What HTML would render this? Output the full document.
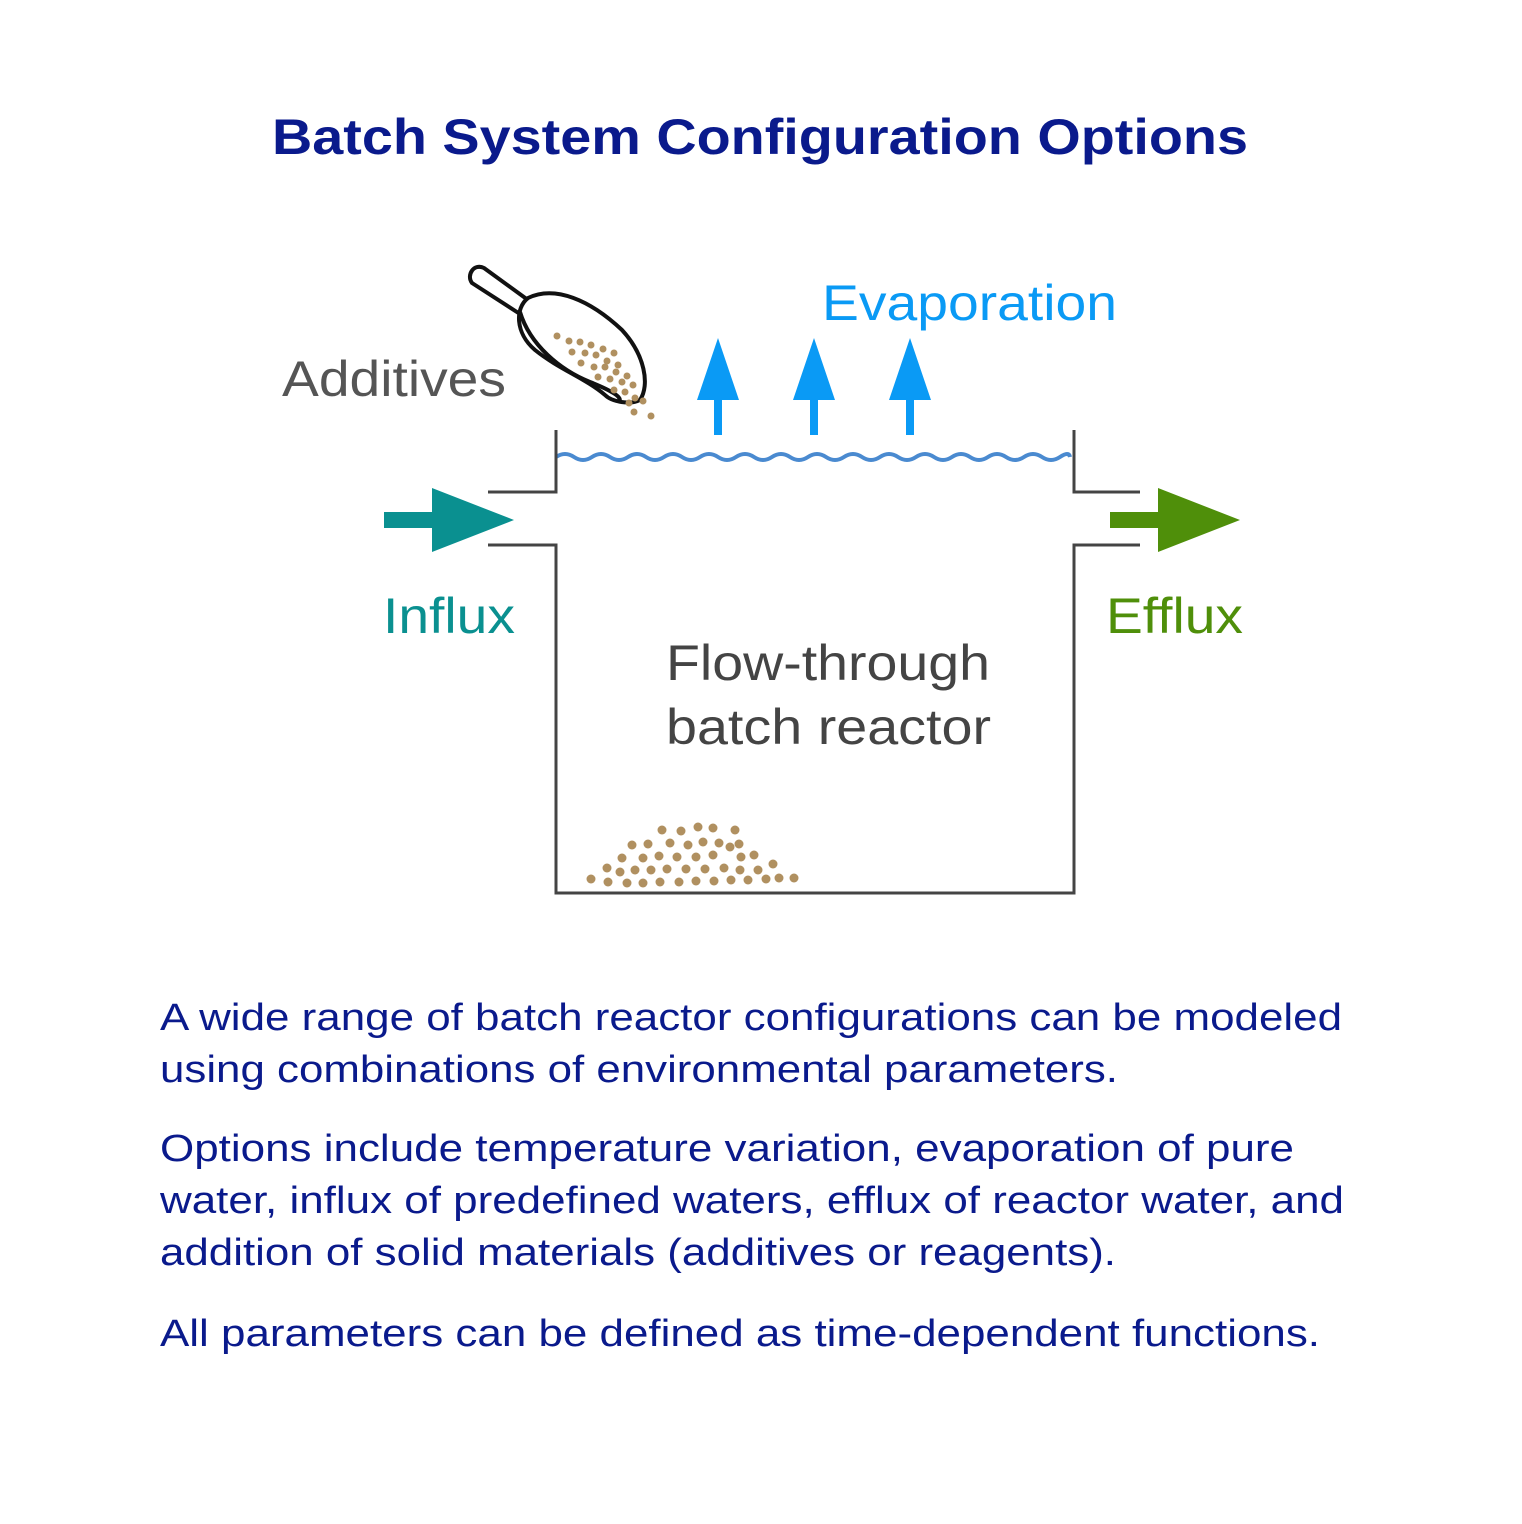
<!DOCTYPE html>
<html><head><meta charset="utf-8"><style>
html,body{margin:0;padding:0;background:#fff}
svg{display:block}
text{font-family:"Liberation Sans",Arial,sans-serif}
</style></head><body>
<svg width="1522" height="1524" viewBox="0 0 1522 1524" xmlns="http://www.w3.org/2000/svg">
<rect width="1522" height="1524" fill="#fff"/>
<text x="760" y="154" text-anchor="middle" font-size="50" font-weight="bold" fill="#0a1a8c" textLength="976" lengthAdjust="spacingAndGlyphs">Batch System Configuration Options</text>

<!-- scoop -->
<g stroke="#111" stroke-width="4" fill="#fff" stroke-linejoin="round">
<path d="M472,283 C466,275 474,263 484,268 L528,300 L520,314 Z"/>
<path d="M528,298 C555,285 590,300 622,330 C645,355 650,385 640,400 C630,405 612,402 605,395 C585,378 560,370 535,350 C515,333 515,308 528,298 Z"/>
<path d="M520,312 C530,345 560,370 590,382 C610,390 625,398 618,402" fill="none"/>
</g>
<g fill="#b09060">
<circle cx="557" cy="336" r="3.5"/><circle cx="569" cy="341" r="3.5"/><circle cx="580" cy="342" r="3.5"/><circle cx="591" cy="345" r="3.5"/><circle cx="603" cy="349" r="3.5"/><circle cx="614" cy="353" r="3.5"/><circle cx="572" cy="352" r="3.5"/><circle cx="585" cy="353" r="3.5"/><circle cx="596" cy="355" r="3.5"/><circle cx="607" cy="361" r="3.5"/><circle cx="618" cy="365" r="3.5"/><circle cx="581" cy="363" r="3.5"/><circle cx="594" cy="367" r="3.5"/><circle cx="605" cy="367" r="3.5"/><circle cx="616" cy="372" r="3.5"/><circle cx="627" cy="376" r="3.5"/><circle cx="598" cy="377" r="3.5"/><circle cx="610" cy="379" r="3.5"/><circle cx="622" cy="382" r="3.5"/><circle cx="633" cy="385" r="3.5"/><circle cx="614" cy="390" r="3.5"/><circle cx="625" cy="392" r="3.5"/><circle cx="635" cy="398" r="3.5"/><circle cx="629" cy="403" r="3.5"/><circle cx="643" cy="401" r="3.5"/><circle cx="634" cy="412" r="3.5"/><circle cx="651" cy="416" r="3.5"/>
</g>
<text x="282" y="396" font-size="50" fill="#555" textLength="224" lengthAdjust="spacingAndGlyphs">Additives</text>

<!-- evaporation -->
<text x="822" y="320" font-size="50" fill="#0a9af5" textLength="295" lengthAdjust="spacingAndGlyphs">Evaporation</text>
<g fill="#0a9af5">
<polygon points="718,338 739,400 722,400 722,435 714,435 714,400 697,400"/>
<polygon points="814,338 835,400 818,400 818,435 810,435 810,400 793,400"/>
<polygon points="910,338 931,400 914,400 914,435 906,435 906,400 889,400"/>
</g>

<!-- wave -->
<path d="M556,457 q9,-6 18,0 t18,0 t18,0 t18,0 t18,0 t18,0 t18,0 t18,0 t18,0 t18,0 t18,0 t18,0 t18,0 t18,0 t18,0 t18,0 t18,0 t18,0 t18,0 t18,0 t18,0 t18,0 t18,0 t18,0 t18,0 t18,0 t18,0 t18,0 t10,0" fill="none" stroke="#4a8ad0" stroke-width="4"/>

<!-- reactor walls -->
<g stroke="#444" stroke-width="3" fill="none">
<path d="M556,430 V492 H488"/>
<path d="M488,545 H556 V893 H1074 V545 H1140"/>
<path d="M1074,430 V492 H1140"/>
</g>

<!-- influx / efflux -->
<polygon points="384,512 432,512 432,488 514,520 432,552 432,528 384,528" fill="#0a9090"/>
<polygon points="1110,512 1158,512 1158,488 1240,520 1158,552 1158,528 1110,528" fill="#4f8f0a"/>
<text x="383" y="633" font-size="50" fill="#0a9090" textLength="132" lengthAdjust="spacingAndGlyphs">Influx</text>
<text x="1106" y="633" font-size="50" fill="#4f8f0a" textLength="137" lengthAdjust="spacingAndGlyphs">Efflux</text>

<text x="666" y="680" font-size="50" fill="#444" textLength="324" lengthAdjust="spacingAndGlyphs">Flow-through</text>
<text x="666" y="744" font-size="50" fill="#444" textLength="325" lengthAdjust="spacingAndGlyphs">batch reactor</text>

<!-- pile -->
<g fill="#b09060">
<circle cx="591" cy="879" r="4.5"/><circle cx="608" cy="882" r="4.5"/><circle cx="627" cy="883" r="4.5"/><circle cx="643" cy="883" r="4.5"/><circle cx="660" cy="882" r="4.5"/><circle cx="679" cy="882" r="4.5"/><circle cx="696" cy="881" r="4.5"/><circle cx="714" cy="881" r="4.5"/><circle cx="731" cy="880" r="4.5"/><circle cx="748" cy="880" r="4.5"/><circle cx="766" cy="879" r="4.5"/><circle cx="779" cy="878" r="4.5"/><circle cx="794" cy="878" r="4.5"/>
<circle cx="607" cy="868" r="4.5"/><circle cx="620" cy="872" r="4.5"/><circle cx="635" cy="870" r="4.5"/><circle cx="651" cy="870" r="4.5"/><circle cx="667" cy="869" r="4.5"/><circle cx="686" cy="869" r="4.5"/><circle cx="705" cy="869" r="4.5"/><circle cx="724" cy="868" r="4.5"/><circle cx="740" cy="870" r="4.5"/><circle cx="758" cy="870" r="4.5"/><circle cx="773" cy="864" r="4.5"/>
<circle cx="622" cy="858" r="4.5"/><circle cx="643" cy="858" r="4.5"/><circle cx="659" cy="856" r="4.5"/><circle cx="677" cy="857" r="4.5"/><circle cx="696" cy="857" r="4.5"/><circle cx="713" cy="855" r="4.5"/><circle cx="741" cy="857" r="4.5"/><circle cx="754" cy="855" r="4.5"/>
<circle cx="632" cy="845" r="4.5"/><circle cx="648" cy="844" r="4.5"/><circle cx="670" cy="843" r="4.5"/><circle cx="688" cy="845" r="4.5"/><circle cx="703" cy="842" r="4.5"/><circle cx="719" cy="843" r="4.5"/><circle cx="730" cy="847" r="4.5"/><circle cx="739" cy="844" r="4.5"/>
<circle cx="662" cy="830" r="4.5"/><circle cx="681" cy="831" r="4.5"/><circle cx="698" cy="827" r="4.5"/><circle cx="713" cy="828" r="4.5"/><circle cx="735" cy="830" r="4.5"/>
</g>

<!-- body text -->
<g font-size="38" fill="#0a1a8c">
<text x="160" y="1030" textLength="1182" lengthAdjust="spacingAndGlyphs">A wide range of batch reactor configurations can be modeled</text>
<text x="160" y="1082" textLength="958" lengthAdjust="spacingAndGlyphs">using combinations of environmental parameters.</text>
<text x="160" y="1161" textLength="1134" lengthAdjust="spacingAndGlyphs">Options include temperature variation, evaporation of pure</text>
<text x="160" y="1213" textLength="1184" lengthAdjust="spacingAndGlyphs">water, influx of predefined waters, efflux of reactor water, and</text>
<text x="160" y="1265" textLength="956" lengthAdjust="spacingAndGlyphs">addition of solid materials (additives or reagents).</text>
<text x="160" y="1346" textLength="1160" lengthAdjust="spacingAndGlyphs">All parameters can be defined as time-dependent functions.</text>
</g>
</svg>
</body></html>
